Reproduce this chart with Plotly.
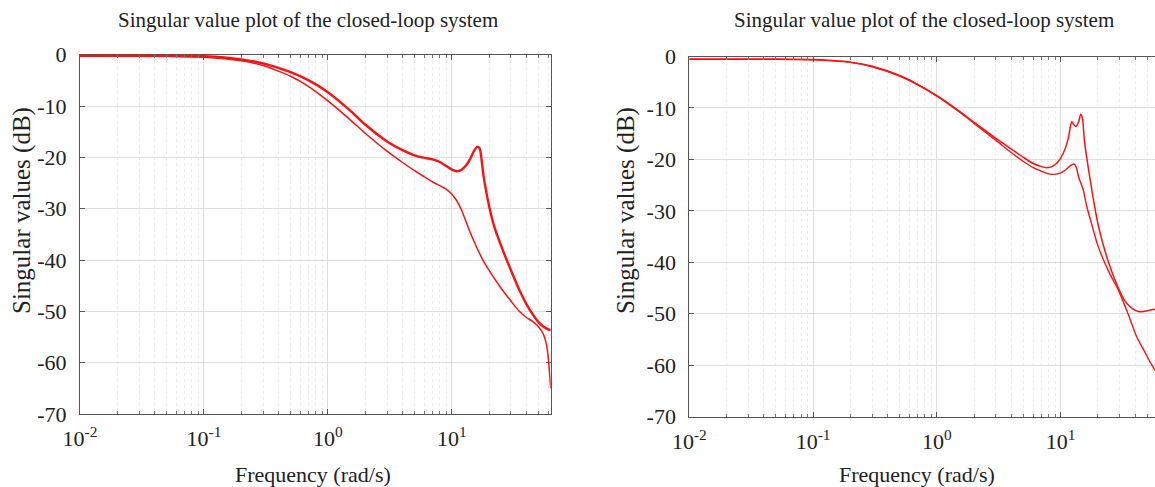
import plotly.graph_objects as go

# ---------------- data ----------------
# Left panel
left_freq_upper = [0.01, 0.05, 0.1, 0.2, 0.3, 0.5, 0.7, 1.0, 1.5, 2.0, 3.0, 4.0, 5.0, 6.0, 7.0, 8.0,
                   9.0, 10.0, 11.0, 12.0, 13.0, 14.0, 15.0, 16.0, 16.8, 18.0, 20.0, 22.0, 26.0,
                   30.0, 35.0, 40.0, 45.0, 50.0, 55.0, 60.0, 62.8]
left_db_upper = [-0.15, -0.2, -0.3, -0.9, -1.7, -3.4, -5.0, -7.3, -10.8, -13.6, -16.9, -18.6, -19.6,
                 -20.1, -20.4, -20.9, -21.7, -22.4, -22.7, -22.4, -21.6, -20.4, -18.9, -17.9, -18.3,
                 -23.5, -29.5, -33.5, -38.3, -42.0, -45.8, -48.6, -50.6, -52.1, -53.0, -53.5, -53.7]

left_freq_lower = [0.01, 0.05, 0.1, 0.2, 0.3, 0.5, 0.7, 1.0, 1.5, 2.0, 3.0, 4.0, 5.0, 6.0, 7.0, 8.0,
                   9.0, 10.0, 11.0, 12.0, 14.0, 16.0, 18.0, 20.0, 25.0, 30.0, 35.0, 40.0, 45.0,
                   50.0, 55.0, 58.0, 60.0, 61.5, 62.8]
left_db_lower = [-0.3, -0.35, -0.5, -1.2, -2.1, -4.2, -6.2, -9.0, -12.6, -15.3, -18.8, -21.0, -22.6,
                 -23.8, -24.8, -25.5, -26.2, -27.2, -28.5, -30.3, -34.5, -37.7, -40.2, -42.0, -45.5,
                 -48.0, -50.0, -51.2, -52.0, -53.0, -54.5, -56.5, -59.0, -62.0, -65.0]

# Right panel
right_freq_upper = [0.01, 0.05, 0.1, 0.2, 0.3, 0.5, 0.7, 1.0, 1.5, 2.0, 3.0, 4.0, 5.0, 6.0, 7.0,
                    7.7, 8.5, 9.5, 10.5, 11.5, 12.0, 12.3, 12.8, 13.3, 14.0, 14.5, 15.0, 15.5,
                    16.2, 18.0, 20.0, 22.0, 25.0, 29.0, 33.0, 38.0, 43.0, 50.0, 58.0]
right_db_upper = [-0.5, -0.5, -0.6, -1.1, -1.9, -3.7, -5.4, -7.6, -10.5, -12.8, -15.9, -18.0, -19.6,
                  -20.8, -21.4, -21.6, -21.4, -20.5, -18.8, -16.0, -13.5, -12.7, -13.3, -13.6,
                  -12.6, -11.2, -12.0, -16.0, -19.5, -26.5, -32.5, -36.5, -40.8, -44.8, -47.5,
                  -49.0, -49.6, -49.4, -49.1]

right_freq_lower = [0.01, 0.05, 0.1, 0.2, 0.3, 0.5, 0.7, 1.0, 1.5, 2.0, 3.0, 4.0, 5.0, 6.0, 7.0,
                    8.0, 9.0, 10.0, 11.0, 12.0, 12.8, 13.3, 14.0, 15.2, 16.2, 18.0, 20.0, 25.0,
                    29.0, 35.0, 41.0, 48.0, 53.0, 58.0]
right_db_lower = [-0.55, -0.55, -0.65, -1.15, -2.0, -3.8, -5.5, -7.7, -10.7, -13.0, -16.3, -18.7,
                  -20.4, -21.6, -22.3, -22.8, -22.9, -22.6, -22.0, -21.2, -20.9, -21.4, -23.5,
                  -25.9, -29.0, -33.0, -36.8, -42.3, -45.2, -50.0, -54.4, -57.5, -59.5, -61.0]

title_text = "Singular value plot of the closed-loop system"
x_title = "Frequency (rad/s)"
y_title = "Singular values (dB)"
x_tick_vals = [0.01, 0.1, 1, 10]
x_tick_text = ["10<sup>-2</sup>", "10<sup>-1</sup>", "10<sup>0</sup>", "10<sup>1</sup>"]
y_tick_vals = [0, -10, -20, -30, -40, -50, -60, -70]
y_tick_text = ["0", "-10", "-20", "-30", "-40", "-50", "-60", "-70"]

# ---------------- figure ----------------
W, H = 1155, 487
RED = "#ff1010"
FONT = "Liberation Serif"

fig = go.Figure()
fig.add_trace(go.Scatter(x=left_freq_upper, y=left_db_upper, mode="lines",
                         line=dict(color=RED, width=2.4, shape="spline", smoothing=0.6),
                         xaxis="x", yaxis="y", showlegend=False))
fig.add_trace(go.Scatter(x=left_freq_lower, y=left_db_lower, mode="lines",
                         line=dict(color=RED, width=1.5, shape="spline", smoothing=0.6),
                         xaxis="x", yaxis="y", showlegend=False))
fig.add_trace(go.Scatter(x=right_freq_upper, y=right_db_upper, mode="lines",
                         line=dict(color=RED, width=1.5, shape="spline", smoothing=0.6),
                         xaxis="x2", yaxis="y2", showlegend=False))
fig.add_trace(go.Scatter(x=right_freq_lower, y=right_db_lower, mode="lines",
                         line=dict(color=RED, width=1.4, shape="spline", smoothing=0.6),
                         xaxis="x2", yaxis="y2", showlegend=False))

minor_vals = [k * 10.0 ** d for d in range(-2, 2) for k in range(2, 10)]

def xaxis_cfg(domain, rng, anchor):
    return dict(type="log", domain=domain, range=rng, anchor=anchor, automargin=False,
                tickmode="array", tickvals=x_tick_vals, ticktext=x_tick_text,
                ticks="inside", ticklen=5, tickcolor="#555", tickwidth=1,
                showline=True, linecolor="#555", linewidth=1, mirror="ticks",
                showgrid=True, gridcolor="#dedede", gridwidth=1,
                minor=dict(tickvals=minor_vals, ticks="inside", ticklen=3, tickcolor="#777",
                           showgrid=True, gridcolor="#ececec", griddash="dot", gridwidth=1),
                tickfont=dict(family=FONT, size=22, color="#222"),
                ticklabelstandoff=5, zeroline=False)

def yaxis_cfg(domain, anchor, mirror):
    return dict(domain=domain, range=[-70, 0], anchor=anchor, automargin=False,
                tickmode="array", tickvals=y_tick_vals, ticktext=y_tick_text,
                ticks="inside", ticklen=5, tickcolor="#555",
                showline=True, linecolor="#555", linewidth=1, mirror=mirror,
                showgrid=True, gridcolor="#dedede", gridwidth=1,
                tickfont=dict(family=FONT, size=22, color="#222"),
                ticklabelstandoff=8, zeroline=False)

lx = [80 / W, 550.7 / W]
ly = [1 - 414 / H, 1 - 54.7 / H]
rx = [689.3 / W, 1.0]
ry = [1 - 416.7 / H, 1 - 56.5 / H]

fig.update_layout(
    width=W, height=H, autosize=False,
    margin=dict(l=0, r=0, t=0, b=0, pad=0),
    paper_bgcolor="white", plot_bgcolor="white",
    xaxis=xaxis_cfg(lx, [-2, 1.798], "y"),
    yaxis=yaxis_cfg(ly, "x", "ticks"),
    xaxis2=xaxis_cfg(rx, [-2, 1.762], "y2"),
    yaxis2=yaxis_cfg(ry, "x2", False),
)

def ann(text, x, y, size, angle=0):
    fig.add_annotation(text=text, x=x / W, y=1 - y / H, xref="paper", yref="paper",
                       showarrow=False, textangle=angle, xanchor="center", yanchor="middle",
                       font=dict(family=FONT, size=size, color="#222"))

ann(title_text, 308, 20, 21)
ann(title_text, 924, 20, 21)
ann(x_title, 313, 474, 22)
ann(x_title, 917, 474, 22)
ann(y_title, 22, 211, 25, -90)
ann(y_title, 626, 211, 25, -90)

fig.write_html("out.html")
